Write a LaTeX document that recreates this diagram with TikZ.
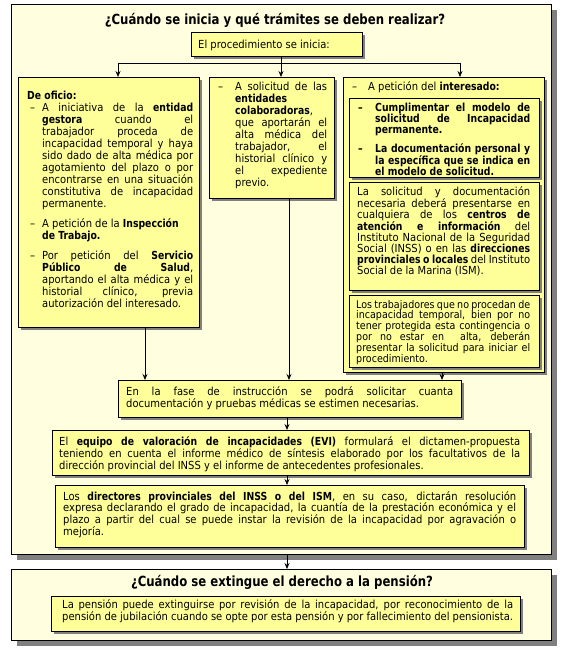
\documentclass[tikz,border=0pt]{standalone}
\usepackage{fontspec}
\setmainfont{DejaVu Sans Condensed}[BoldFeatures={FakeStretch=0.93}]
\usetikzlibrary{arrows.meta,shadows}
\definecolor{outerfill}{HTML}{FFFFE0}
\definecolor{innerfill}{HTML}{FFFF99}
\definecolor{shadowgray}{HTML}{808080}
\newcommand\bodyA{\fontsize{11.1}{12}\selectfont}
\newcommand\bodyB{\fontsize{11.1}{11.1}\selectfont}
\newcommand\bodyC{\fontsize{10.6}{10.9}\selectfont}
\newcommand\titlefont{\fontsize{14}{16}\selectfont\bfseries}
\newcommand\ditem[2]{\noindent\hangindent=#1\hangafter=1\makebox[#1][l]{\hspace{#2}–}\ignorespaces}
\newcommand\gap[1]{\par\vspace{#1}}
\newcommand\nlbreak{\hspace*{\fill}\break}
\hyphenpenalty=10000
\exhyphenpenalty=10000
\tolerance=10000
\hbadness=10000
\tikzset{
  outerbox/.style={draw=black, line width=0.8pt, fill=outerfill, inner sep=0pt, anchor=north west,
    general shadow={fill=shadowgray, shadow xshift=6pt, shadow yshift=-6pt}},
  innerbox/.style={draw=black, line width=0.8pt, fill=innerfill, inner sep=0pt, anchor=north west,
    general shadow={fill=shadowgray, shadow xshift=3pt, shadow yshift=-3pt}},
  txt/.style={anchor=base west, inner sep=0pt, align=justify, font=\bodyA},
  txtb/.style={anchor=base west, inner sep=0pt, align=justify, font=\bodyB},
  conn/.style={line width=0.8pt, -{Stealth[length=6pt,width=5pt]}},
  plain/.style={line width=0.8pt},
}
\begin{document}
\begin{tikzpicture}[x=1pt,y=-1pt]
\fill[white] (0,0) rectangle (568,649);
\useasboundingbox (0,0) rectangle (568,649);

% outer frames
\node[outerbox, minimum width=540pt, minimum height=550pt] (A) at (11,4) {};
\node[outerbox, minimum width=540pt, minimum height=71pt] (B) at (11,569) {};

% boxes
\node[innerbox, minimum width=171pt, minimum height=24pt] (proc) at (191,32) {};
\node[innerbox, minimum width=181pt, minimum height=250pt] (left) at (18,77) {};
\node[innerbox, minimum width=125pt, minimum height=121pt] (mid) at (209,77) {};
\node[innerbox, minimum width=201pt, minimum height=295pt] (right) at (343,77) {};
\node[innerbox, minimum width=190pt, minimum height=79pt] (in1) at (349,98) {};
\node[innerbox, minimum width=190pt, minimum height=108pt] (in2) at (349,182) {};
\node[innerbox, minimum width=190pt, minimum height=72pt] (in3) at (349,295) {};
\node[innerbox, minimum width=343pt, minimum height=37pt] (fase) at (118,380) {};
\node[innerbox, minimum width=477pt, minimum height=45pt] (evi) at (52,430) {};
\node[innerbox, minimum width=469pt, minimum height=62pt] (dir) at (55,485) {};
\node[innerbox, minimum width=469pt, minimum height=35pt] (pen) at (51,596) {};

% titles
\node[anchor=base, inner sep=0pt, font=\titlefont] (tA) at (275,24) {¿Cuándo se inicia y qué trámites se deben realizar?};
\node[anchor=base, inner sep=0pt, font=\titlefont] (tB) at (282,586) {¿Cuándo se extingue el derecho a la pensión?};

% texts
\node[anchor=base west, inner sep=0pt, font=\bodyA] (tproc) at (198,48) {El procedimiento se inicia:};

\node[txt, text width=166pt] (tleft) at (27,99) {\textbf{De oficio:}\par
\ditem{15pt}{3pt}A iniciativa de la \textbf{entidad}\linebreak \textbf{gestora} cuando el\linebreak trabajador proceda de\linebreak incapacidad temporal y haya\linebreak sido dado de alta médica por\linebreak agotamiento del plazo o por\linebreak encontrarse en una situación\linebreak constitutiva de incapacidad\linebreak permanente.\gap{8pt}
\ditem{15pt}{3pt}A petición de la \textbf{Inspección}\nlbreak \textbf{de Trabajo.}\gap{8pt}
\ditem{15pt}{3pt}Por petición del \textbf{Servicio}\linebreak \textbf{Público de Salud},\linebreak aportando el alta médica y el\linebreak historial clínico, previa\linebreak autorización del interesado.\par};

\node[txt, text width=111pt] (tmid) at (216,90) {\ditem{19pt}{2pt}A solicitud de las\linebreak \textbf{entidades}\linebreak \textbf{colaboradoras},\linebreak que aportarán el\linebreak alta médica del\linebreak trabajador, el\linebreak historial clínico y\linebreak el expediente\linebreak previo.\par};

\node[txt, text width=185pt] (tright) at (350,90) {\ditem{18pt}{2pt}A petición del \textbf{interesado:}\par};

\node[txtb, text width=175pt, font=\bodyB\bfseries] (tin1) at (355,111) {\ditem{20pt}{3pt}Cumplimentar el modelo de\linebreak solicitud de Incapacidad\linebreak permanente.\gap{7pt}
\ditem{20pt}{3pt}La documentación personal y\linebreak la específica que se indica en\linebreak el modelo de solicitud.\par};

\node[txtb, text width=173pt] (tin2) at (357,195) {La solicitud y documentación\linebreak necesaria deberá presentarse en\linebreak cualquiera de los \textbf{centros de}\linebreak \textbf{atención e información} del\linebreak Instituto Nacional de la Seguridad\linebreak Social (INSS) o en las \textbf{direcciones}\linebreak \textbf{provinciales o locales} del Instituto\linebreak Social de la Marina (ISM).\par};

\node[txtb, text width=174pt, font=\bodyC] (tin3) at (356,308) {Los trabajadores que no procedan de\linebreak incapacidad temporal, bien por no\linebreak tener protegida esta contingencia o\linebreak por no estar en\ \ alta, deberán\linebreak presentar la solicitud para iniciar el\linebreak procedimiento.\par};

\node[txt, text width=327pt] (tfase) at (126,395) {En la fase de instrucción se podrá solicitar cuanta\linebreak documentación y pruebas médicas se estimen necesarias.\par};

\node[txt, text width=461pt] (tevi) at (59,445) {El \textbf{equipo de valoración de incapacidades (EVI)} formulará el dictamen-propuesta\linebreak teniendo en cuenta el informe médico de síntesis elaborado por los facultativos de la\linebreak dirección provincial del INSS y el informe de antecedentes profesionales.\par};

\node[txt, text width=453pt, font=\fontsize{11.1}{11.7}\selectfont] (tdir) at (63,500) {Los \textbf{directores provinciales del INSS o del ISM}, en su caso, dictarán resolución\linebreak expresa declarando el grado de incapacidad, la cuantía de la prestación económica y el\linebreak plazo a partir del cual se puede instar la revisión de la incapacidad por agravación o\linebreak mejoría.\par};

\node[txt, text width=451pt, font=\fontsize{11.1}{12.5}\selectfont] (tpen) at (62,608) {La pensión puede extinguirse por revisión de la incapacidad, por reconocimiento de la\linebreak pensión de jubilación cuando se opte por esta pensión y por fallecimiento del pensionista.\par};

% connectors
\coordinate (j0) at (281,63);
\coordinate (jl) at (118,63);
\coordinate (jr) at (460,63);
\draw[plain] (proc.south -| j0) -- (j0);
\draw[conn] (j0) -- (j0 |- mid.north);
\draw[plain] (jl) -- (jr);
\draw[conn] (jl) -- (jl |- left.north);
\draw[conn] (jr) -- (jr |- right.north);

\coordinate (k1) at (145,0);
\coordinate (k2) at (289,0);
\coordinate (k3) at (442,0);
\coordinate (k4) at (287,0);
\draw[conn] (k1 |- left.south) -- (k1 |- fase.north);
\draw[conn] (k2 |- mid.south) -- (k2 |- fase.north);
\draw[conn] (k3 |- right.south) -- (k3 |- fase.north);
\draw[conn] (k4 |- fase.south) -- (k4 |- evi.north);
\draw[conn] (k4 |- evi.south) -- (k4 |- dir.north);
\draw[conn] (k4 |- A.south) -- (k4 |- B.north);
\end{tikzpicture}
\end{document}
